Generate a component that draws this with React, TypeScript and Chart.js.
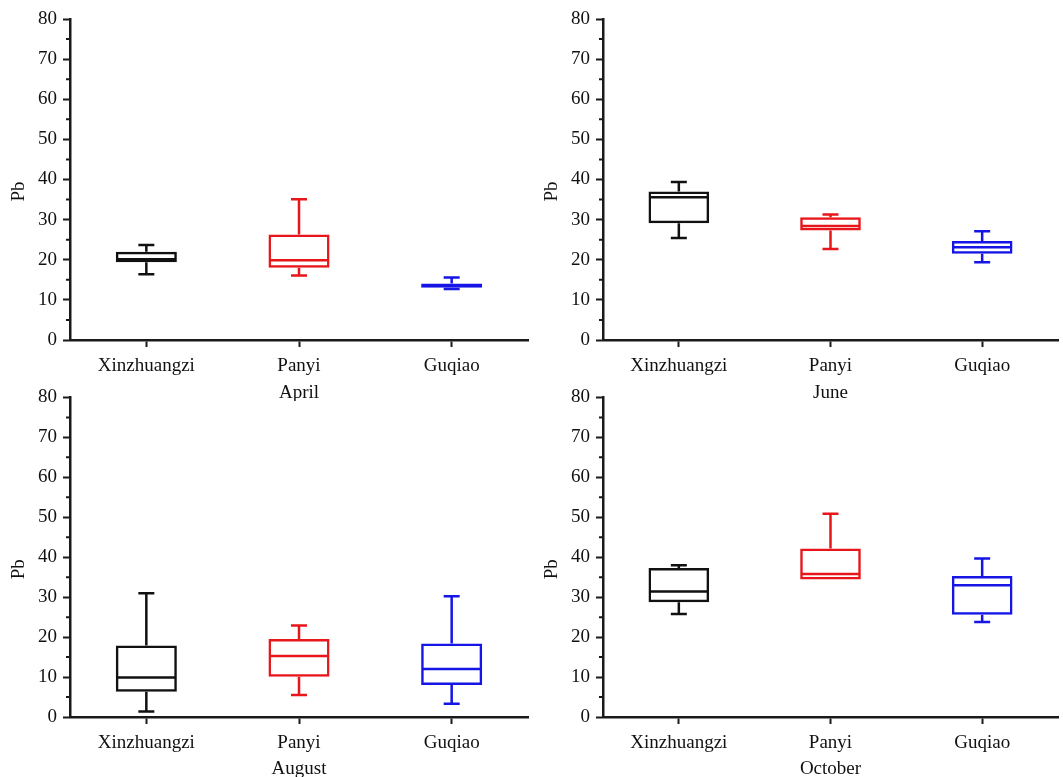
import React, { useEffect, useRef } from 'react';
import { Chart, registerables } from 'chart.js';

Chart.register(...registerables);

const categories = ['Xinzhuangzi', 'Panyi', 'Guqiao'];
const months = ['April', 'June', 'August', 'October'];
const siteColors = ['#111111', '#e8161b', '#1515e6'];
const yMajorTicks = [0, 10, 20, 30, 40, 50, 60, 70, 80];
const yMinorTicks = [5, 15, 25, 35, 45, 55, 65, 75];

// [min, Q1, median, Q3, max] per site
const aprilStats = [
  [16.4, 19.4, 20.1, 22.0, 23.7],
  [16.1, 18.0, 19.9, 26.3, 35.1],
  [12.7, 13.0, 13.6, 14.1, 15.6],
];
const juneStats = [
  [25.4, 29.1, 35.6, 37.0, 39.4],
  [22.7, 27.3, 28.4, 30.6, 31.3],
  [19.4, 21.5, 23.1, 24.7, 27.1],
];
const augustStats = [
  [1.4, 6.3, 9.9, 17.9, 31.0],
  [5.5, 10.1, 15.3, 19.5, 22.9],
  [3.3, 8.0, 12.0, 18.4, 30.2],
];
const octoberStats = [
  [25.8, 28.7, 31.4, 37.3, 38.0],
  [34.4, 34.4, 35.8, 42.2, 50.9],
  [23.8, 25.6, 33.0, 35.3, 39.7],
];
const allStats = [aprilStats, juneStats, augustStats, octoberStats];

const FONT = "'Liberation Serif', 'Times New Roman', Times, serif";
const AXIS = '#1a1a1a';
const LW = 2.5;

type Panel = {
  left: number; top: number; w: number; h: number;
  padTop: number; padRight: number; yWidth: number; xHeight: number;
};

const panels: Panel[] = [
  { left: 0, top: 0, w: 532, h: 401, padTop: 19, padRight: 4, yWidth: 70, xHeight: 61 },
  { left: 531, top: 0, w: 532, h: 401, padTop: 19, padRight: 5, yWidth: 72, xHeight: 61 },
  { left: 0, top: 380, w: 532, h: 397, padTop: 15, padRight: 4, yWidth: 70, xHeight: 60 },
  { left: 531, top: 380, w: 532, h: 397, padTop: 15, padRight: 5, yWidth: 72, xHeight: 60 },
];

function makeBoxPlugin(stats: number[][]) {
  return {
    id: 'boxWhiskers',
    afterDatasetsDraw(chart: any) {
      const meta = chart.getDatasetMeta(0);
      const ys = chart.scales.y;
      const ctx = chart.ctx;
      ctx.save();
      ctx.lineWidth = LW;
      meta.data.forEach((el: any, i: number) => {
        const [mn, q1, md, q3, mx] = stats[i];
        const x = el.x;
        const half = el.width / 2;
        const cap = 8;
        ctx.strokeStyle = siteColors[i];
        const pQ1 = ys.getPixelForValue(q1);
        const pQ3 = ys.getPixelForValue(q3);
        const pMd = ys.getPixelForValue(md);
        const pMn = ys.getPixelForValue(mn);
        const pMx = ys.getPixelForValue(mx);
        ctx.beginPath();
        // median
        ctx.moveTo(x - half + 1, pMd);
        ctx.lineTo(x + half - 1, pMd);
        // upper whisker
        ctx.moveTo(x, pQ3);
        ctx.lineTo(x, pMx);
        ctx.moveTo(x - cap, pMx);
        ctx.lineTo(x + cap, pMx);
        // lower whisker
        if (mn < q1) {
          ctx.moveTo(x, pQ1);
          ctx.lineTo(x, pMn);
          ctx.moveTo(x - cap, pMn);
          ctx.lineTo(x + cap, pMn);
        }
        ctx.stroke();
      });
      ctx.restore();
    },
  };
}

const axisDecorPlugin = {
  id: 'axisDecor',
  afterDraw(chart: any) {
    const ys = chart.scales.y;
    const ctx = chart.ctx;
    const area = chart.chartArea;
    ctx.save();
    ctx.strokeStyle = AXIS;
    ctx.lineWidth = 2;
    ctx.beginPath();
    yMinorTicks.forEach((v) => {
      const py = ys.getPixelForValue(v);
      ctx.moveTo(area.left - 4, py);
      ctx.lineTo(area.left, py);
    });
    ctx.stroke();
    ctx.fillStyle = '#111';
    ctx.font = `19px ${FONT}`;
    ctx.textAlign = 'center';
    ctx.textBaseline = 'middle';
    ctx.translate(area.left - 51, (area.top + area.bottom) / 2 + 12);
    ctx.rotate(-Math.PI / 2);
    ctx.fillText('Pb', 0, 0);
    ctx.restore();
  },
};

function BoxPanel({ idx }: { idx: number }) {
  const ref = useRef<HTMLCanvasElement | null>(null);
  const p = panels[idx];
  useEffect(() => {
    if (!ref.current) return;
    const stats = allStats[idx];
    const chart = new Chart(ref.current, {
      type: 'bar',
      data: {
        labels: categories,
        datasets: [
          {
            data: stats.map((s) => [s[1], s[3]]) as any,
            backgroundColor: 'rgba(0,0,0,0)',
            borderColor: siteColors,
            borderWidth: LW,
            borderSkipped: false,
            barPercentage: 0.4,
            categoryPercentage: 1,
          },
        ],
      },
      options: {
        responsive: false,
        animation: false,
        devicePixelRatio: 1,
        layout: { padding: { top: p.padTop, right: p.padRight, left: 0, bottom: 0 } },
        plugins: {
          legend: { display: false },
          tooltip: { enabled: false },
        },
        scales: {
          x: {
            type: 'category',
            offset: true,
            afterFit: (s: any) => { s.height = p.xHeight; },
            grid: {
              offset: false,
              drawOnChartArea: false,
              drawTicks: true,
              tickLength: 7,
              tickWidth: 2,
              tickColor: AXIS,
            },
            border: { display: true, width: LW, color: AXIS },
            ticks: {
              color: '#111',
              font: { family: FONT, size: 19 },
              padding: 8,
              maxRotation: 0,
            },
            title: {
              display: true,
              text: months[idx],
              color: '#111',
              font: { family: FONT, size: 19, lineHeight: 0.8 },
              padding: { top: 0, bottom: 0 },
            },
          },
          y: {
            type: 'linear',
            min: 0,
            max: 80,
            afterFit: (s: any) => { s.width = p.yWidth; },
            afterBuildTicks: (s: any) => { s.ticks = yMajorTicks.map((v) => ({ value: v })); },
            grid: {
              drawOnChartArea: false,
              drawTicks: true,
              tickLength: 7,
              tickWidth: 2,
              tickColor: AXIS,
            },
            border: { display: true, width: LW, color: AXIS },
            ticks: {
              color: '#111',
              font: { family: FONT, size: 19 },
              padding: 6,
            },
          },
        },
      } as any,
      plugins: [makeBoxPlugin(stats), axisDecorPlugin],
    });
    return () => chart.destroy();
  }, [idx]);
  return (
    <canvas
      ref={ref}
      width={p.w}
      height={p.h}
      style={{ position: 'absolute', left: p.left, top: p.top, width: p.w, height: p.h }}
    />
  );
}

export default function App() {
  return (
    <div style={{ position: 'absolute', left: 0, top: 0, width: 1063, height: 777, background: '#fff', overflow: 'hidden' }}>
      {panels.map((_, i) => (
        <BoxPanel key={i} idx={i} />
      ))}
    </div>
  );
}
